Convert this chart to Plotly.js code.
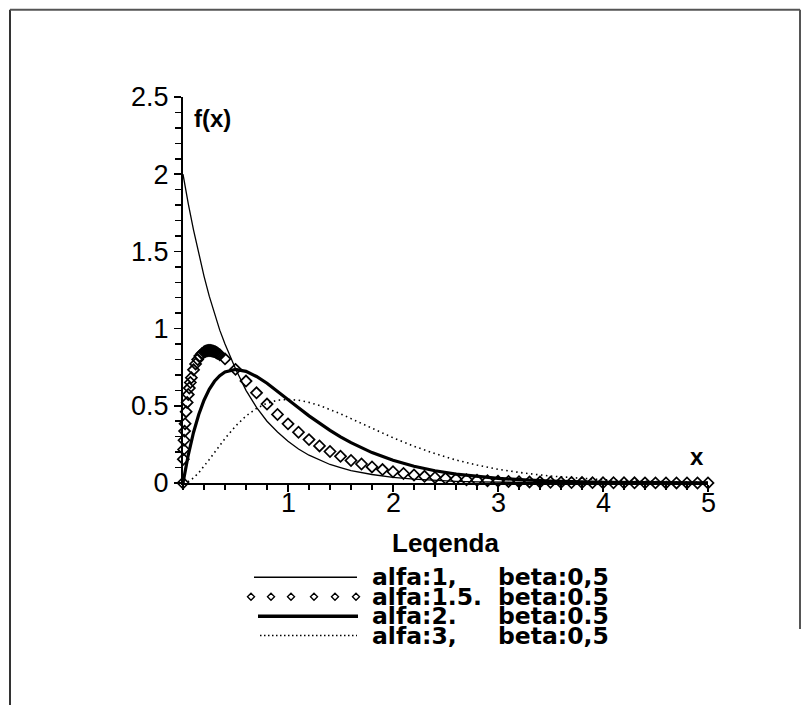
<!DOCTYPE html>
<html>
<head>
<meta charset="utf-8">
<script src="https://cdn.plot.ly/plotly-3.0.1.min.js"></script>
<style>
  html, body { margin: 0; padding: 0; background: #fff; }
  #chart { width: 810px; height: 706px; }
</style>
</head>
<body>
<div id="chart"></div>
<script>
// ---- data ----
const xLine = [0,0.02,0.05,0.1,0.15,0.2,0.25,0.3,0.35,0.4,0.5,0.6,0.7,0.8,0.9,1.0,1.1,1.2,1.3,1.4,1.5,1.6,1.8,2.0,2.2,2.4,2.6,2.8,3.0,3.25,3.5,4.0,4.5,5.0];
const alfa1 = [2.0,1.92,1.81,1.64,1.48,1.34,1.21,1.10,0.99,0.90,0.74,0.60,0.49,0.40,0.33,0.27,0.22,0.18,0.15,0.12,0.10,0.08,0.055,0.037,0.025,0.016,0.011,0.007,0.005,0.003,0.002,0.001,0.0,0.0];
const alfa2 = [0,0.077,0.181,0.327,0.444,0.536,0.607,0.659,0.695,0.719,0.736,0.723,0.690,0.646,0.595,0.541,0.488,0.435,0.386,0.341,0.299,0.261,0.197,0.147,0.108,0.079,0.057,0.041,0.030,0.020,0.013,0.005,0.002,0.001];
const alfa3 = [0,0.0015,0.009,0.033,0.067,0.107,0.152,0.198,0.243,0.288,0.368,0.434,0.483,0.517,0.536,0.541,0.536,0.522,0.502,0.477,0.448,0.417,0.354,0.293,0.238,0.190,0.149,0.116,0.089,0.064,0.045,0.021,0.010,0.005];
const xDiamond = [0,0.003,0.006,0.01,0.015,0.02,0.03,0.04,0.05,0.06,0.07,0.08,0.1,0.12,0.14,0.16,0.18,0.2,0.21,0.22,0.23,0.24,0.25,0.26,0.27,0.28,0.29,0.3,0.31,0.32,0.33,0.35,0.4,
  0.5,0.6,0.7,0.8,0.9,1.0,1.1,1.2,1.3,1.4,1.5,1.6,1.7,1.8,1.9,2.0,2.1,2.2,2.3,2.4,2.5,2.6,2.7,2.8,2.9,3.0,
  3.1,3.2,3.3,3.4,3.5,3.6,3.7,3.8,3.9,4.0,4.1,4.2,4.3,4.4,4.5,4.6,4.7,4.8,4.9,5.0];
const alfa15 = [0,0.154,0.217,0.277,0.336,0.384,0.462,0.522,0.573,0.615,0.651,0.682,0.733,0.771,0.800,0.822,0.838,0.848,0.852,0.855,0.857,0.858,0.858,0.858,0.857,0.855,0.853,0.851,0.848,0.844,0.840,0.831,0.804,
  0.736,0.660,0.584,0.511,0.444,0.383,0.329,0.281,0.240,0.204,0.173,0.146,0.123,0.104,0.087,0.073,0.0615,0.0515,0.0431,0.0361,0.0302,0.0252,0.0210,0.0175,0.0146,0.0122,
  0.0101,0.0084,0.0070,0.0058,0.0048,0.0040,0.0033,0.0028,0.0023,0.0019,0.0015,0.0013,0.0010,0.0009,0.0007,0.0006,0.0005,0.0004,0.0003,0.0003];

const xTicks = [1,2,3,4,5];
const legendTitle = "Leqenda";
const legendAlfa = ["alfa:1,", "alfa:1.5.", "alfa:2.", "alfa:3,"];
const legendBeta = ["beta:0,5", "beta:0.5", "beta:0.5", "beta:0,5"];

// ---- layout helpers (pixel -> paper) ----
const L = 183, R = 708, T = 96.5, B = 483.5;
const px = v => (v - L) / (R - L);
const py = v => (B - v) / (B - T);

const FONT = '"Liberation Sans", Arial, sans-serif';
const LFONT = '"DejaVu Sans", sans-serif';

const traces = [
  { x: xLine, y: alfa1, mode: 'lines', line: { color: '#000', width: 1.3 }, showlegend: false, hoverinfo: 'skip' },
  { x: xLine, y: alfa3, mode: 'lines', line: { color: '#000', width: 1.6, dash: '1.5px,3.5px' }, showlegend: false, hoverinfo: 'skip' },
  { x: xLine, y: alfa2, mode: 'lines', line: { color: '#000', width: 3.2 }, showlegend: false, hoverinfo: 'skip' },
  { x: xDiamond, y: alfa15, mode: 'markers', marker: { symbol: 'diamond-open', size: 8.5, color: '#000', line: { width: 1.7, color: '#000' } }, showlegend: false, hoverinfo: 'skip', cliponaxis: false }
];

const rowsY = [578, 597.5, 617, 636.5];
const annotations = [
  { text: '<b>f(x)</b>', x: px(192), y: py(118), xref: 'paper', yref: 'paper', xanchor: 'left', yanchor: 'middle', showarrow: false, font: { family: FONT, size: 24, color: '#000' } },
  { text: '<b>x</b>', x: px(697), y: py(457), xref: 'paper', yref: 'paper', xanchor: 'center', yanchor: 'middle', showarrow: false, font: { family: FONT, size: 24, color: '#000' } },
  { text: '<b>' + legendTitle + '</b>', x: px(445), y: py(544), xref: 'paper', yref: 'paper', xanchor: 'center', yanchor: 'middle', showarrow: false, font: { family: FONT, size: 26, color: '#000' } }
];
// x tick labels
xTicks.forEach(t => {
  annotations.push({ text: String(t), x: t, xref: 'x', y: py(504), yref: 'paper', xanchor: 'center', yanchor: 'middle', showarrow: false, font: { family: FONT, size: 27, color: '#000' } });
});
rowsY.forEach((ry, i) => {
  annotations.push({ text: '<b>' + legendAlfa[i] + '</b>', x: px(370), y: py(ry), xref: 'paper', yref: 'paper', xanchor: 'left', yanchor: 'middle', showarrow: false, font: { family: LFONT, size: 23.5, color: '#000' } });
  annotations.push({ text: '<b>' + legendBeta[i] + '</b>', x: px(496), y: py(ry), xref: 'paper', yref: 'paper', xanchor: 'left', yanchor: 'middle', showarrow: false, font: { family: LFONT, size: 23.5, color: '#000' } });
});

const shapes = [
  // frame
  { type: 'line', xref: 'paper', yref: 'paper', x0: px(10), x1: px(10), y0: py(9), y1: py(706), line: { color: '#333', width: 2 } },
  { type: 'line', xref: 'paper', yref: 'paper', x0: px(10), x1: px(800), y0: py(9), y1: py(9), line: { color: '#555', width: 2 } },
  { type: 'line', xref: 'paper', yref: 'paper', x0: px(800), x1: px(800), y0: py(9), y1: py(630), line: { color: '#555', width: 2 } },
  // legend samples
  { type: 'line', xref: 'paper', yref: 'paper', x0: px(254), x1: px(357), y0: py(rowsY[0]), y1: py(rowsY[0]), line: { color: '#000', width: 1.5 } },
  { type: 'line', xref: 'paper', yref: 'paper', x0: px(258), x1: px(358), y0: py(rowsY[2]), y1: py(rowsY[2]), line: { color: '#000', width: 3.5 } },
  { type: 'line', xref: 'paper', yref: 'paper', x0: px(260), x1: px(357), y0: py(rowsY[3]), y1: py(rowsY[3]), line: { color: '#000', width: 1.5, dash: '1.5px,2.5px' } }
];
// diamond sample row
let dpath = '';
[251, 271, 291, 314, 335, 356].forEach(cx => {
  const cy = rowsY[1], h = 3.5;
  dpath += `M${px(cx - h)},${py(cy)} L${px(cx)},${py(cy - h)} L${px(cx + h)},${py(cy)} L${px(cx)},${py(cy + h)} Z `;
});
shapes.push({ type: 'path', xref: 'paper', yref: 'paper', path: dpath, line: { color: '#000', width: 1.4 } });

const layout = {
  width: 810, height: 706, autosize: false,
  margin: { l: L, r: 810 - R, t: T, b: 706 - B, pad: 0 },
  paper_bgcolor: '#fff', plot_bgcolor: '#fff',
  showlegend: false,
  xaxis: {
    range: [0, 5], showgrid: false, zeroline: false,
    showline: true, linecolor: '#000', linewidth: 2,
    tickmode: 'array', tickvals: xTicks, showticklabels: false,
    ticks: 'outside', ticklen: 7, tickwidth: 1.5, tickcolor: '#000',
    minor: { dtick: 0.2, tick0: 0, ticks: 'outside', ticklen: 5, tickwidth: 1.5, tickcolor: '#000', showgrid: false }
  },
  yaxis: {
    range: [0, 2.5], showgrid: false, zeroline: false,
    showline: true, linecolor: '#000', linewidth: 2,
    dtick: 0.5, tick0: 0,
    ticks: 'outside', ticklen: 7, tickwidth: 1.5, tickcolor: '#000',
    minor: { dtick: 0.1, tick0: 0, ticks: 'outside', ticklen: 6, tickwidth: 1.5, tickcolor: '#000', showgrid: false },
    tickfont: { family: FONT, size: 27, color: '#000' }
  },
  annotations: annotations,
  shapes: shapes
};

Plotly.newPlot('chart', traces, layout, { staticPlot: true, displayModeBar: false });
</script>
</body>
</html>
